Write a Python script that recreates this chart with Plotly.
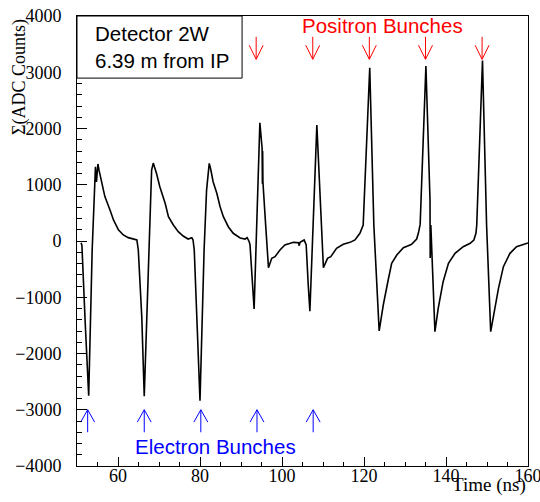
import plotly.graph_objects as go

# ---- data ----
time_ns = [51.0, 51.2, 52.0, 52.85, 53.7, 54.15, 54.5, 54.75, 55.1, 55.4, 56.0, 56.8, 58.05, 58.9,
           60.1, 61.3, 62.5, 63.7, 64.6,
           64.95, 65.8, 66.4, 67.56, 68.2, 68.6, 69.4, 70.2, 71.5, 72.3, 73.5, 74.7, 75.9, 77.1,
           77.6, 78.0, 78.3,
           78.6, 79.3, 80.0, 81.0, 81.6, 82.25, 82.6, 83.2, 84.1, 84.9, 85.7, 86.9, 88.1, 89.8,
           91.0, 91.5, 92.0, 92.2, 92.8, 93.2,
           94.6, 95.15, 95.22, 95.28, 95.35, 96.0, 96.7, 97.5, 98.3, 99.5, 100.7, 102.8, 104.0,
           104.2, 104.4, 105.4, 105.9, 106.4, 106.8,
           108.5, 110.1, 111.1, 111.9, 113.3, 114.95, 116.6, 117.8, 119.0, 119.8,
           121.4, 122.4, 123.7, 124.7, 125.9, 126.75, 128.0, 129.6, 130.8, 131.6, 132.85, 133.3,
           133.7,
           135.1, 136.1, 136.15, 136.22, 136.3, 137.3, 138.1, 139.3, 140.6, 142.2, 144.2, 145.9,
           146.8, 147.3, 147.5,
           148.9, 149.9, 150.9, 151.7, 152.8, 154.0, 155.6, 157.2, 158.9, 160.0]
adc_sum = [-30, -80, -1450, -2750, -160, 900, 1320, 1050, 1370, 1250, 1025, 790, 550, 375,
           200, 107, 60, 30, 18,
           -160, -1350, -2760, -160, 1262, 1385, 1200, 966, 670, 432, 284, 166, 89, 35,
           45, 59, 20,
           -160, -1500, -2840, -160, 900, 1380, 1280, 1054, 848, 610, 432, 254, 137, 55,
           35, 59, -12, -71, -782, -1210,
           2100, 1650, 1020, 1600, 1050, 300, -474, -308, -279, -160, -71, -24, -30,
           -83, -24, 18, -71, -782, -1250,
           2060, -474, -308, -279, -130, -59, -24, 18, 137, 284,
           3080, 284, -1600, -1138, -693, -397, -249, -119, -83, -59, 36, 150,
           300,
           3110, 730, -300, 550, 284, -1612, -1197, -723, -397, -219, -101, -41,
           18, 137, 284,
           3210, 284, -1612, -1256, -841, -456, -219, -101, -53, -35]

electron_bunch_ns = [52.6, 66.4, 80.2, 93.9, 107.6]
positron_bunch_ns = [93.7, 107.5, 121.3, 135.0, 148.8]

x_tick_vals = [60, 80, 100, 120, 140, 160]
y_tick_vals = [-4000, -3000, -2000, -1000, 0, 1000, 2000, 3000, 4000]

# ---- arrow geometry (styling, not data) ----
ELEC_TIP, ELEC_TAIL, ELEC_HEAD = -3000, -3400, 220
POS_TIP, POS_TAIL, POS_HEAD = 3230, 3630, 250
HEAD_DT = 1.7


def arrows(times, tip, tail, head, up):
    xs, ys = [], []
    for t in times:
        xs += [t, t, None]
        ys += [tail, tip, None]
        hy = tip - head if up else tip + head
        xs += [t - HEAD_DT, t, t + HEAD_DT, None]
        ys += [hy, tip, hy, None]
    return xs, ys


SERIF = "Liberation Serif"
SANS = "Liberation Sans"

fig = go.Figure()
fig.add_trace(go.Scatter(x=time_ns, y=adc_sum, mode="lines",
                         line=dict(color="black", width=1.6), hoverinfo="skip"))

ex, ey = arrows(electron_bunch_ns, ELEC_TIP, ELEC_TAIL, ELEC_HEAD, True)
fig.add_trace(go.Scatter(x=ex, y=ey, mode="lines", line=dict(color="blue", width=1),
                         hoverinfo="skip"))
px_, py_ = arrows(positron_bunch_ns, POS_TIP, POS_TAIL, POS_HEAD, False)
fig.add_trace(go.Scatter(x=px_, y=py_, mode="lines", line=dict(color="red", width=1),
                         hoverinfo="skip"))

axis_common = dict(showgrid=False, zeroline=False, showline=True, linecolor="black",
                   linewidth=1, mirror=True, ticks="inside", tickcolor="black",
                   tickwidth=1, automargin=False, ticklabeloverflow="allow",
                   tickfont=dict(family=SERIF, size=18, color="black"))

fig.update_xaxes(range=[50, 160], tickvals=x_tick_vals, ticklen=9,
                 minor=dict(ticks="inside", ticklen=4.5, dtick=5, tick0=0, tickcolor="black"),
                 ticklabelstandoff=-7, **axis_common)
fig.update_yaxes(range=[-4000, 4000], tickvals=y_tick_vals, ticklen=10,
                 minor=dict(ticks="inside", ticklen=4.5, dtick=200, tick0=0, tickcolor="black"),
                 ticklabelstandoff=11, **axis_common)

fig.update_layout(
    width=540, height=502,
    margin=dict(l=77, r=12, t=16, b=36),
    paper_bgcolor="white", plot_bgcolor="white",
    showlegend=False,
    shapes=[dict(type="rect", xref="paper", yref="paper", x0=0, x1=0.366, y0=0.862, y1=1,
                 line=dict(color="black", width=1), fillcolor="white", layer="above")],
    annotations=[
        dict(text="Detector 2W<br>6.39 m from IP", xref="paper", yref="paper",
             x=0.036, y=0.931, xanchor="left", yanchor="middle", align="left",
             showarrow=False, font=dict(family=SANS, size=20.5, color="black")),
        dict(text="Positron Bunches", x=124.6, y=3830, xanchor="center", yanchor="middle",
             showarrow=False, font=dict(family=SANS, size=20.5, color="red")),
        dict(text="Electron Bunches", x=83.7, y=-3650, xanchor="center", yanchor="middle",
             showarrow=False, font=dict(family=SANS, size=20.5, color="blue")),
        dict(text="Σ(ADC Counts)", xref="paper", yref="paper", x=-0.129, y=0.864,
             xanchor="center", yanchor="middle", textangle=-90, showarrow=False,
             font=dict(family=SERIF, size=18, color="black")),
        dict(text="Time (ns)", xref="paper", yref="paper", x=1.0, y=-0.042,
             xanchor="right", yanchor="middle", showarrow=False,
             font=dict(family=SERIF, size=19, color="black")),
    ],
)

fig.write_html("out.html", config={"displayModeBar": False},
               post_script="document.body.style.margin='0';document.body.style.overflow='hidden';")
